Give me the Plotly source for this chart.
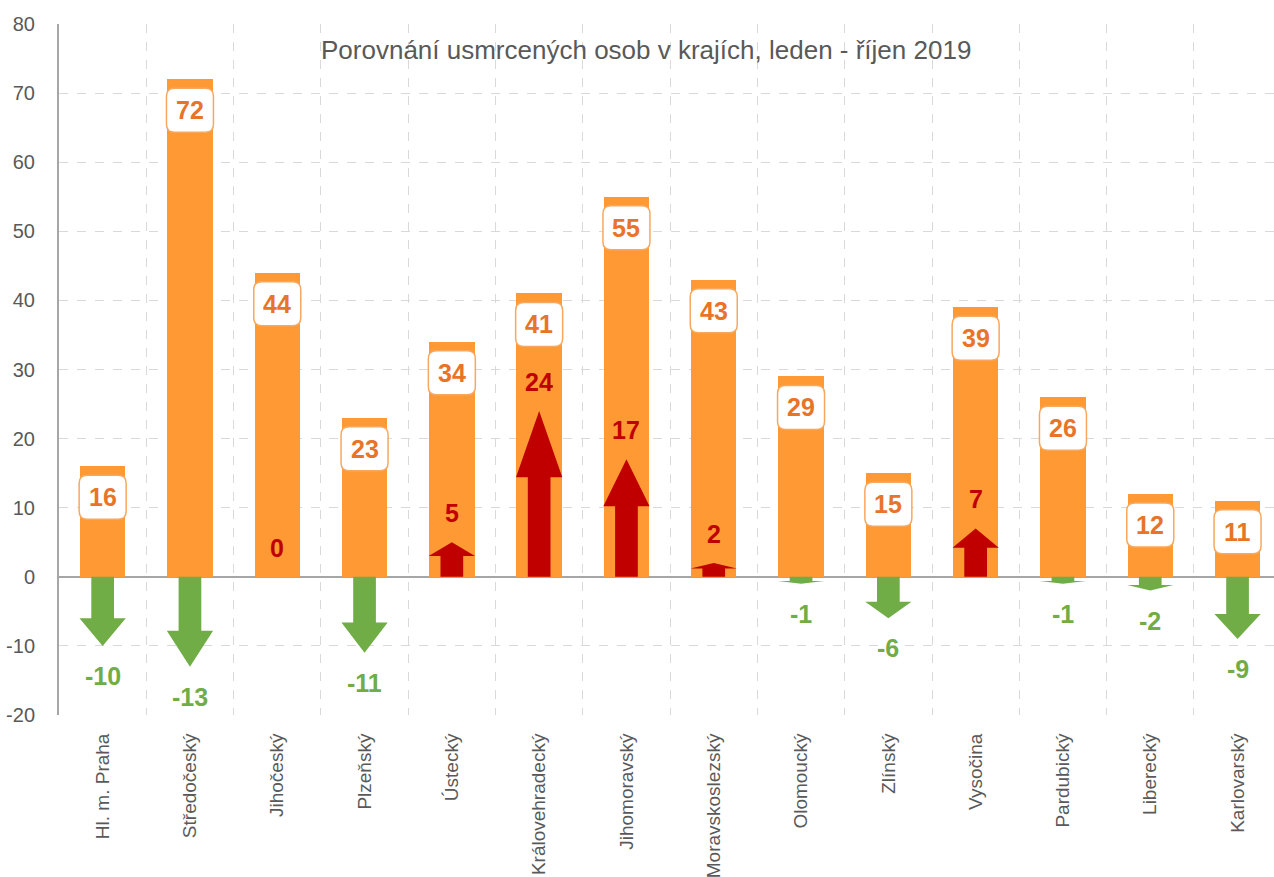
import plotly.graph_objects as go

regions = ["Hl. m. Praha", "Středočeský", "Jihočeský", "Plzeňský", "Ústecký",
           "Královehradecký", "Jihomoravský", "Moravskoslezský", "Olomoucký",
           "Zlínský", "Vysočina", "Pardubický", "Liberecký", "Karlovarský"]
killed_2019 = [16, 72, 44, 23, 34, 41, 55, 43, 29, 15, 39, 26, 12, 11]
change = [-10, -13, 0, -11, 5, 24, 17, 2, -1, -6, 7, -1, -2, -9]
y_ticks = [-20, -10, 0, 10, 20, 30, 40, 50, 60, 70, 80]
y_tick_labels = ["-20", "-10", "0", "10", "20", "30", "40", "50", "60", "70", "80"]
title_text = "Porovnání usmrcených osob v krajích, leden - říjen 2019"

FONT = "Liberation Sans Narrow, Arial Narrow, Liberation Sans, Arial, sans-serif"
BAR = "#FF9933"
ORANGE_TXT = "#E8742A"
RED = "#C00000"
GREEN = "#70AD47"
GRAY_TXT = "#595959"

idx = list(range(len(regions)))

fig = go.Figure()
fig.add_trace(go.Bar(x=idx, y=killed_2019, width=0.52, marker=dict(color=BAR, line=dict(width=0)),
                     hoverinfo="skip", showlegend=False))

def arrow_polys(sign):
    xs, ys = [], []
    s, h = 0.13, 0.265
    for i, v in zip(idx, change):
        if v == 0 or (v > 0) != (sign > 0):
            continue
        b = 0.6 * v
        xs += [i - s, i - s, i - h, i, i + h, i + s, i + s, i - s, None]
        ys += [0, b, b, v, b, b, 0, 0, None]
    return xs, ys

for sign, col in [(1, RED), (-1, GREEN)]:
    xs, ys = arrow_polys(sign)
    fig.add_trace(go.Scatter(x=xs, y=ys, mode="lines", fill="toself", fillcolor=col,
                             line=dict(width=0, color=col), hoverinfo="skip", showlegend=False))

# rounded label boxes (pixel-sized, anchored at bar tops)
def rounded_box(x0, y0, x1, y1, r):
    return (f"M {x0+r},{y0} L {x1-r},{y0} Q {x1},{y0} {x1},{y0+r} L {x1},{y1-r} "
            f"Q {x1},{y1} {x1-r},{y1} L {x0+r},{y1} Q {x0},{y1} {x0},{y1-r} "
            f"L {x0},{y0+r} Q {x0},{y0} {x0+r},{y0} Z")

shapes = []
for i, v in zip(idx, killed_2019):
    shapes.append(dict(type="path", xref="x", yref="y", xsizemode="pixel", ysizemode="pixel",
                       xanchor=i, yanchor=v, path=rounded_box(-23.5, -53, 23.5, -9, 8),
                       fillcolor="white", line=dict(color="#F7A85E", width=1.5), layer="above"))

annotations = []
for i, v in zip(idx, killed_2019):
    annotations.append(dict(x=i, y=v, xref="x", yref="y", text=f"<b>{v}</b>", showarrow=False,
                            yshift=-31, font=dict(family=FONT, size=25, color=ORANGE_TXT)))
for i, v in zip(idx, change):
    if v >= 0:
        annotations.append(dict(x=i, y=v, xref="x", yref="y", text=f"<b>{v}</b>", showarrow=False,
                                yshift=29, font=dict(family=FONT, size=25, color=RED)))
    else:
        annotations.append(dict(x=i, y=v, xref="x", yref="y", text=f"<b>{v}</b>", showarrow=False,
                                yshift=-30, font=dict(family=FONT, size=25, color=GREEN)))
annotations.append(dict(x=(646 - 59) / (1274 - 59), y=76.3, xref="paper", yref="y", text=title_text,
                        showarrow=False, yanchor="middle",
                        font=dict(family=FONT, size=26, color=GRAY_TXT)))

fig.update_layout(
    template="none",
    width=1274, height=877,
    margin=dict(l=59, r=0, t=24, b=162, pad=0),
    paper_bgcolor="white", plot_bgcolor="white",
    annotations=annotations,
    shapes=shapes,
    bargap=0,
    xaxis=dict(range=[-0.5, -0.5 + (1274 - 59) / 87.3], tickvals=idx, ticktext=regions,
               tickangle=-90, showgrid=False, zeroline=False, showline=False,
               ticks="outside", ticklen=10, tickcolor="rgba(0,0,0,0)",
               tickfont=dict(family=FONT, size=19, color=GRAY_TXT), automargin=False,
               minor=dict(tickvals=[i - 0.5 for i in idx] + [len(idx) - 0.5], showgrid=True,
                          gridcolor="#D9D9D9", griddash="dash", gridwidth=1, ticks="")),
    yaxis=dict(range=[-20, 80], tickvals=y_ticks, ticktext=y_tick_labels, showgrid=True,
               gridcolor="#D9D9D9", griddash="dash", gridwidth=1, zeroline=True,
               zerolinecolor="#A6A6A6", zerolinewidth=2, showline=True, linecolor="#A6A6A6",
               linewidth=2, ticks="outside", ticklen=18, tickcolor="rgba(0,0,0,0)",
               tickfont=dict(family=FONT, size=20, color=GRAY_TXT), automargin=False),
)

fig.write_html("out.html", config={"displayModeBar": False},
               post_script="document.body.style.margin='0px';document.body.style.overflow='hidden';")
